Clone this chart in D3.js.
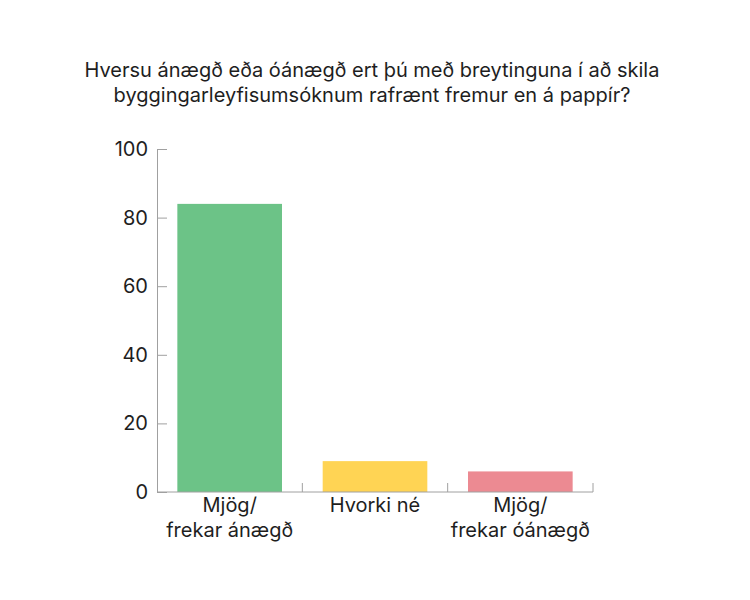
<!DOCTYPE html>
<html>
<head>
<meta charset="utf-8">
<script src="https://cdn.jsdelivr.net/npm/d3@7"></script>
<style>
  body { margin: 0; background: #fff; }
  text { font-family: Inter, "Noto Sans", sans-serif; fill: #1e1e1e; }
</style>
</head>
<body>
<div id="container"></div>
<script>
/* CONSTANTS AND GLOBALS */
const width = 750;
const height = 600;

// data
const categories = [["Mjög/", "frekar ánægð"], ["Hvorki né"], ["Mjög/", "frekar óánægð"]];
const values = [84, 9, 6];
const colors = ["#6cc387", "#ffd454", "#ec8a92"];
const yTicks = [0, 20, 40, 60, 80, 100];
const titleLines = ["Hversu ánægð eða óánægð ert þú með breytinguna í að skila",
                    "byggingarleyfisumsóknum rafrænt fremur en á pappír?"];

const keys = categories.map((d, i) => i);

/* SCALES */
const xScale = d3.scaleBand()
  .domain(keys)
  .range([157, 593])
  .paddingInner(0.28)
  .paddingOuter(0.14);

const yScale = d3.scaleLinear()
  .domain([0, 100])
  .range([492, 149]);

/* HTML ELEMENTS */
const svg = d3.select("#container")
  .append("svg")
  .attr("width", width)
  .attr("height", height);

// title
svg.append("text")
  .attr("text-anchor", "middle")
  .style("font-size", "20px")
  .selectAll("tspan")
  .data(titleLines)
  .join("tspan")
  .attr("x", 372)
  .attr("y", (d, i) => 77 + i * 25)
  .text(d => d);

// bars
svg.selectAll("rect.bar")
  .data(values)
  .join("rect")
  .attr("class", "bar")
  .attr("x", (d, i) => xScale(i))
  .attr("width", xScale.bandwidth())
  .attr("y", d => yScale(d))
  .attr("height", d => yScale(0) - yScale(d))
  .attr("fill", (d, i) => colors[i]);

// y axis (ticks point inward)
const yAxis = svg.append("g")
  .attr("transform", "translate(157,0)")
  .call(d3.axisLeft(yScale).tickValues(yTicks).tickSize(0).tickSizeOuter(0).tickPadding(9));
yAxis.selectAll("text").style("font-size", "20px").attr("fill", "#1e1e1e");
yAxis.select(".domain").attr("stroke", "#a0a0a0");
yAxis.selectAll(".tick").append("line")
  .attr("x1", 0).attr("x2", 10)
  .attr("stroke", "#a0a0a0");

// x axis: line + upward ticks at band boundaries
const step = xScale.step();
const xAxis = svg.append("g")
  .attr("transform", `translate(0,${yScale(0)})`);
xAxis.append("line")
  .attr("x1", xScale.range()[0]).attr("x2", xScale.range()[1])
  .attr("stroke", "#a0a0a0");
xAxis.selectAll("line.tick")
  .data(keys)
  .join("line")
  .attr("class", "tick")
  .attr("x1", (d) => xScale.range()[0] + step * (d + 1))
  .attr("x2", (d) => xScale.range()[0] + step * (d + 1))
  .attr("y1", 0).attr("y2", -9)
  .attr("stroke", "#a0a0a0");

// x labels
xAxis.selectAll("text.lab")
  .data(categories)
  .join("text")
  .attr("class", "lab")
  .attr("text-anchor", "middle")
  .style("font-size", "20px")
  .each(function(d, i) {
    d3.select(this).selectAll("tspan")
      .data(d)
      .join("tspan")
      .attr("x", xScale(i) + xScale.bandwidth() / 2)
      .attr("y", (t, j) => 20 + j * 25)
      .text(t => t);
  });
</script>
</body>
</html>
